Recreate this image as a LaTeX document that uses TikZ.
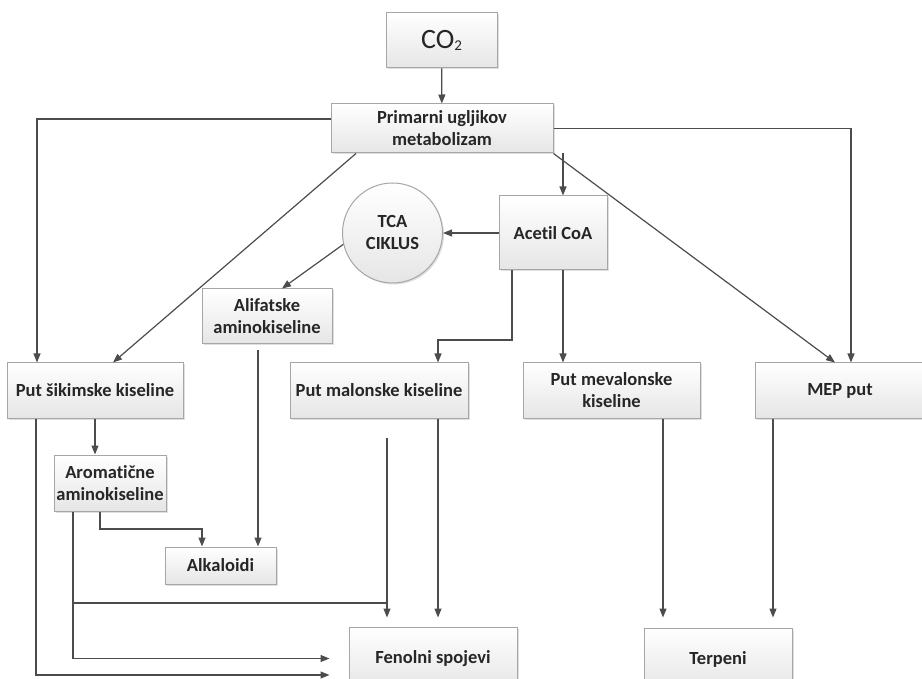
\documentclass[tikz,border=0pt]{standalone}
\usepackage{fontspec}
\setmainfont{Carlito}[Ligatures={NoCommon}]
\usetikzlibrary{arrows.meta,shadows}
\begin{document}
\begin{tikzpicture}[x=1pt,y=-1pt,
  box/.style={draw=gray!70, line width=1pt, top color=white, bottom color=gray!20,
    font=\bfseries\fontsize{18.5}{22}\selectfont, text=black!85, align=center, inner sep=0pt,
    drop shadow={shadow xshift=1.5pt,shadow yshift=-1.5pt,opacity=0.25,fill=gray}},
  arr/.style={draw=black!70, line width=1.2pt, -{Triangle[length=9pt,width=7pt]}},
  ln/.style={draw=black!70, line width=1.2pt}]
\useasboundingbox (0,0) rectangle (922,679);

\node[box, minimum width=111pt, minimum height=55pt, font=\fontsize{28}{30}\selectfont] (co2) at (441.5,40.5) {CO\raisebox{-2pt}{\fontsize{15}{15}\selectfont 2}};
\node[box, minimum width=222pt, minimum height=49pt] (prim) at (442,128.5) {Primarni ugljikov\\metabolizam};
\node[box, circle, minimum size=100pt] (tca) at (392.5,233) {TCA\\CIKLUS};
\node[box, minimum width=108pt, minimum height=74pt] (acetil) at (553,233) {Acetil CoA};
\node[box, minimum width=130pt, minimum height=55pt] (alif) at (267,316.5) {Alifatske\\aminokiseline};
\node[box, minimum width=176pt, minimum height=55pt] (sik) at (95,390.5) {Put šikimske kiseline};
\node[box, minimum width=178pt, minimum height=55pt] (mal) at (379,390.5) {Put malonske kiseline};
\node[box, minimum width=177pt, minimum height=55pt] (mev) at (611.5,390.5) {Put mevalonske\\kiseline};
\node[box, minimum width=170pt, minimum height=55pt] (mep) at (840,390.5) {MEP put};
\node[box, minimum width=112pt, minimum height=56pt] (arom) at (110,483) {Aromatične\\aminokiseline};
\node[box, minimum width=111pt, minimum height=37pt] (alk) at (220.5,565.5) {Alkaloidi};
\node[box, minimum width=168pt, minimum height=63pt] (fen) at (433,658.5) {Fenolni spojevi};
\node[box, minimum width=148pt, minimum height=63pt] (terp) at (718,659.5) {Terpeni};

% CO2 -> primary
\draw[arr] (co2) -- (prim);
% primary -> sikimske (left vertical)
\draw[arr] ([yshift=9.5pt]prim.west) -| ([xshift=-58pt]sik.north);
% primary -> sikimske (diagonal)
\draw[arr] ([xshift=-86pt]prim.south) -- ([xshift=18pt]sik.north);
% primary -> acetil
\draw[arr] ([xshift=121pt]prim.south) -- ([xshift=10pt]acetil.north);
% primary -> MEP diagonal
\draw[arr] (prim.south east) -- ([xshift=-5pt]mep.north);
% primary -> MEP right vertical
\draw[arr] (prim.east) -| ([xshift=11pt]mep.north);
% acetil -> TCA
\draw[arr] (acetil.west) -- (tca.east);
% TCA -> alifatske
\draw[arr] (tca.193) -- ([xshift=15pt]alif.north);
% alifatske -> alkaloidi
\draw[arr] ([xshift=-9pt,yshift=-6pt]alif.south) -- ([xshift=37.5pt]alk.north);
% acetil -> malonske
\draw[arr] ([xshift=-41pt]acetil.south) |- (438,340) -- ([xshift=59pt]mal.north);
% acetil -> mevalonske
\draw[arr] ([xshift=10pt]acetil.south) -- ([xshift=-48.5pt]mev.north);
% sikimske -> aromaticne
\draw[arr] (sik.south) -- ([xshift=-15pt]arom.north);
% aromaticne -> alkaloidi
\draw[arr] ([xshift=-10pt]arom.south) |- (202,529) -- ([xshift=-18.5pt]alk.north);
% aromaticne -> fenolni
\coordinate (a1) at ([xshift=-37pt]arom.south);
\draw[arr, shorten >=19pt] (a1) |- (fen.west);
% malonske branch -> fenolni
\coordinate (m1) at ([xshift=8pt,yshift=-19pt]mal.south);
\draw[arr, shorten >=9pt] (m1) -- ([xshift=-46pt]fen.north);
\draw[ln] (a1 |- 0,603) -- (m1 |- 0,603);
% malonske -> fenolni
\draw[arr, shorten >=9pt] ([xshift=59pt]mal.south) -- ([xshift=5pt]fen.north);
% sikimske -> fenolni
\draw[arr, shorten >=19pt] ([xshift=-59pt]sik.south) |- ([yshift=-16.5pt]fen.west);
% mevalonske -> terpeni
\draw[arr, shorten >=10pt] ([xshift=51.5pt]mev.south) -- ([xshift=-55pt]terp.north);
% MEP -> terpeni
\draw[arr, shorten >=10pt] ([xshift=-67pt]mep.south) -- ([xshift=55pt]terp.north);
\end{tikzpicture}
\end{document}
